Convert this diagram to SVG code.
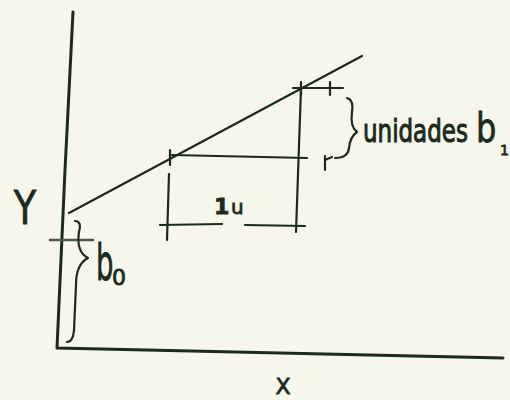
<svg xmlns="http://www.w3.org/2000/svg" width="510" height="400" viewBox="0 0 510 400">
<style>
.ln{stroke:#1c2a1e;fill:none;stroke-linecap:round;stroke-linejoin:round}
.ax{stroke-width:3}
.th{stroke-width:2.2}
.tx{font-family:"DejaVu Sans","Liberation Sans",sans-serif;fill:#1c2a1e;stroke:#1c2a1e;stroke-width:0.8}
</style>
<rect x="0" y="0" width="510" height="400" fill="#f7f6ea"/>
<g id="axes">
<path class="ln ax" d="M73 12 L65 170 L57 348 L503 358"/>
<path class="ln" d="M50 240 L93 240" stroke-width="2.5" style="stroke:#4a5a48"/>
</g>
<g id="regression-line">
<path class="ln th" d="M69 213 L362 56"/>
</g>
<g id="construction">
<path class="ln th" d="M170 150 L170 165"/>
<path class="ln th" d="M301 82 L301 95"/>
<path class="ln th" d="M172 155 L307 158"/>
<path class="ln th" d="M301 88 L296 232"/>
<path class="ln th" d="M169 174 L167 240"/>
<path class="ln th" d="M160 225 L222 224"/>
<path class="ln th" d="M245 225 L305 226"/>
<path class="ln th" d="M293 88 L343 88"/>
<path class="ln th" d="M330 82 L330 95"/>
<path class="ln th" d="M325 156 L325 170 M325 160 L332 157"/>
</g>
<g id="braces">
<path class="ln th" d="M75 221 Q82 221 79 232 Q76 252 88 258 Q76 264 76 285 L74 330 Q73 342 67 342"/>
<path class="ln th" d="M347 98 Q354 100 352 112 Q350 127 357 132 Q350 137 349 148 Q348 158 335 158"/>
</g>
<g id="labels">
<text class="tx" x="25" y="224" font-size="46" text-anchor="middle" transform="translate(25 0) scale(0.8 1) translate(-25 0)">Y</text>
<text class="tx" x="283" y="394" font-size="22" text-anchor="middle">X</text>
<text class="tx" x="96" y="280" font-size="50" transform="translate(96 0) scale(0.55 1) translate(-96 0)">b</text>
<text class="tx" x="112" y="285" font-size="22">0</text>
<text class="tx" x="214" y="214" font-size="22" font-weight="bold">1</text>
<text class="tx" x="231" y="214" font-size="20">u</text>
<text class="tx" x="363" y="142" font-size="23" transform="translate(0 142) scale(1 1.35) translate(0 -142)">unidades</text>
<text class="tx" x="476" y="142" font-size="40" transform="translate(476 0) scale(0.8 1) translate(-476 0)">b</text>
<text class="tx" x="500" y="155" font-size="14">1</text>
</g>
</svg>
